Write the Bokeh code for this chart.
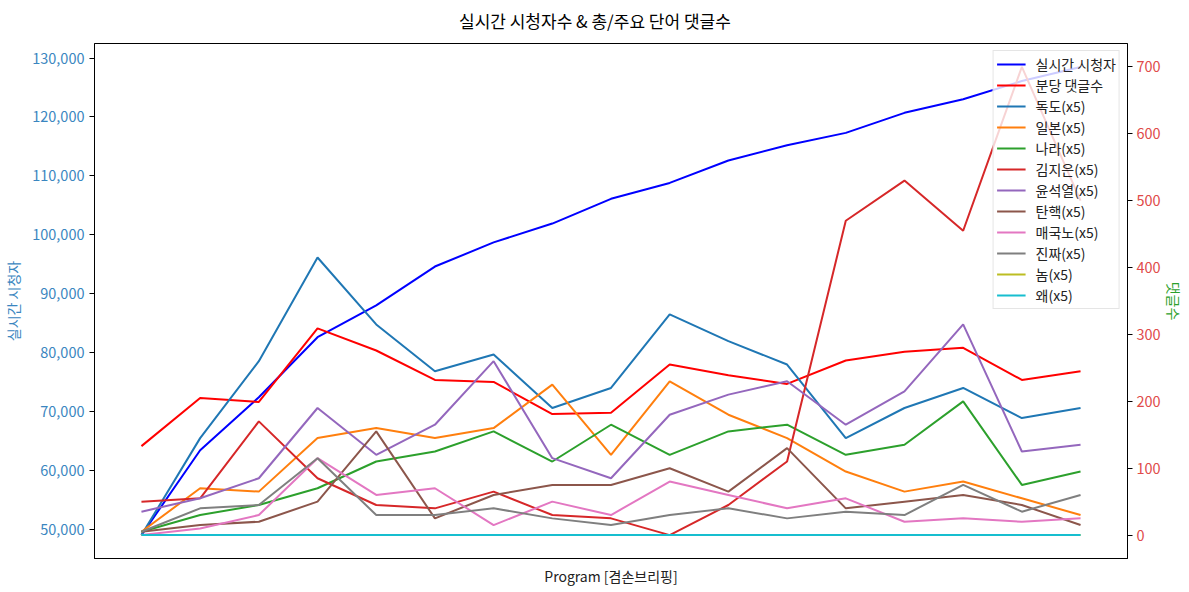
from bokeh.plotting import figure
from bokeh.models import (Range1d, LinearAxis, FixedTicker, NumeralTickFormatter,
                          Legend, LegendItem, Title)
from bokeh.embed import file_html
from bokeh.resources import INLINE

# ---- data ----
x = list(range(17))
viewers = [49000, 63400, 72400, 82600, 88000, 94600, 98700, 101900, 106100,
           108800, 112600, 115200, 117300, 120700, 123000, 126100, 128500]
comments_per_min = [133, 205, 199, 309, 276, 232, 229, 181, 183, 255, 239,
                    226, 261, 274, 280, 232, 245]

word_labels = ["독도(x5)", "일본(x5)", "나라(x5)", "김지은(x5)", "윤석열(x5)",
               "탄핵(x5)", "매국노(x5)", "진짜(x5)", "놈(x5)", "왜(x5)"]
dokdo   = [0, 145, 260, 415, 315, 245, 270, 190, 220, 330, 290, 255, 145, 190, 220, 175, 190]
japan   = [5, 70, 65, 145, 160, 145, 160, 225, 120, 230, 180, 145, 95, 65, 80, 55, 30]
nara    = [5, 30, 45, 70, 110, 125, 155, 110, 165, 120, 155, 165, 120, 135, 200, 75, 95]
kimjieun = [50, 55, 170, 85, 45, 40, 65, 30, 25, 0, 45, 110, 470, 530, 455, 700, 500]
yoon    = [35, 55, 85, 190, 120, 165, 260, 115, 85, 180, 210, 230, 165, 215, 315, 125, 135]
tanhaek = [5, 15, 20, 50, 155, 25, 60, 75, 75, 100, 65, 130, 40, 50, 60, 45, 15]
maeguk  = [0, 10, 30, 115, 60, 70, 15, 50, 30, 80, 60, 40, 55, 20, 25, 20, 25]
jinjja  = [5, 40, 45, 115, 30, 30, 40, 25, 15, 30, 40, 25, 35, 30, 75, 35, 60]
nom     = [0] * 17
wae     = [0] * 17
word_series = [dokdo, japan, nara, kimjieun, yoon, tanhaek, maeguk, jinjja, nom, wae]
word_colors = ["#1f77b4", "#ff7f0e", "#2ca02c", "#d62728", "#9467bd",
               "#8c564b", "#e377c2", "#7f7f7f", "#bcbd22", "#17becf"]
title_text = "실시간 시청자수 & 총/주요 단어 댓글수"

FONT = "Noto Sans CJK KR"
LW = 2.0
W, H = 1189, 592
BL, BR, BT, BB = 93, 62, 43, 34   # borders around the plot frame

# ranges like matplotlib autoscale (5% margins)
def padded(lo, hi, m=0.05):
    s = hi - lo
    return lo - m * s, hi + m * s

xlo, xhi = padded(min(x), max(x))
vlo, vhi = padded(min(viewers), max(viewers))
all_c = comments_per_min + [v for s in word_series for v in s]
clo, chi = padded(min(all_c), max(all_c))

p = figure(width=W, height=H, output_backend="svg", toolbar_location=None,
           x_range=Range1d(xlo, xhi), y_range=Range1d(vlo, vhi),
           min_border_left=BL, min_border_right=BR, min_border_top=BT,
           min_border_bottom=BB, title=None)
p.extra_y_ranges = {"c": Range1d(clo, chi)}

# spacer between frame and title, then the title (centred on the canvas)
spacer = Title(text=" ", text_font_size="1px", standoff=8)
p.add_layout(spacer, "above")
main_title = Title(text=title_text, align="left", offset=W / 2 - BL - 137,
                   vertical_align="bottom", standoff=0,
                   text_font=FONT, text_font_size="17px",
                   text_font_style="normal", text_color="#000000")
p.add_layout(main_title, "above")

p.xgrid.visible = False
p.ygrid.visible = False
p.outline_line_color = "black"
p.outline_line_alpha = 1
p.outline_line_width = 1

# x axis: no ticks, only label
xa = p.xaxis[0]
xa.ticker = FixedTicker(ticks=[])
xa.axis_label = "Program [겸손브리핑]"
xa.axis_label_text_font = FONT
xa.axis_label_text_font_size = "14px"
xa.axis_label_text_font_style = "normal"
xa.axis_label_text_color = "#222222"
xa.axis_label_standoff = 7
xa.major_tick_line_color = None
xa.minor_tick_line_color = None
xa.axis_line_color = "black"

# left axis
ya = p.yaxis[0]
ya.ticker = FixedTicker(ticks=[50000, 60000, 70000, 80000, 90000, 100000,
                               110000, 120000, 130000])
ya.formatter = NumeralTickFormatter(format="0,0")
ya.axis_label = "실시간 시청자"
ya.axis_label_text_font = FONT
ya.axis_label_text_font_size = "14px"
ya.axis_label_text_font_style = "normal"
ya.axis_label_text_color = "#3a86c0"
ya.major_label_text_color = "#3a86c0"
ya.major_label_text_font = FONT
ya.major_label_text_font_size = "14.5px"
ya.major_tick_out = 5
ya.major_tick_in = 0
ya.minor_tick_line_color = None
ya.axis_line_color = "black"
ya.major_label_standoff = 5
ya.axis_label_standoff = 6

# right axis
ra = LinearAxis(y_range_name="c", axis_label="댓글수")
ra.ticker = FixedTicker(ticks=[0, 100, 200, 300, 400, 500, 600, 700])
ra.axis_label_text_font = FONT
ra.axis_label_text_font_size = "14px"
ra.axis_label_text_font_style = "normal"
ra.axis_label_text_color = "#2ca02c"
ra.major_label_text_color = "#e04a4a"
ra.major_label_text_font = FONT
ra.major_label_text_font_size = "14.5px"
ra.major_tick_out = 5
ra.major_tick_in = 0
ra.minor_tick_line_color = None
ra.axis_line_color = "black"
ra.major_label_standoff = 4
ra.axis_label_standoff = 0
p.add_layout(ra, "right")

items = []
r = p.line(x, viewers, line_color="blue", line_width=LW)
items.append(LegendItem(label="실시간 시청자", renderers=[r]))
r = p.line(x, comments_per_min, line_color="red", line_width=LW,
           y_range_name="c", level="overlay")
items.append(LegendItem(label="분당 댓글수", renderers=[r]))
for lab, s, col in zip(word_labels, word_series, word_colors):
    r = p.line(x, s, line_color=col, line_width=LW, y_range_name="c",
               level="overlay")
    items.append(LegendItem(label=lab, renderers=[r]))

legend = Legend(items=items, location="top_right")
legend.margin = 7
legend.padding = 3
legend.spacing = 1
legend.label_height = 20
legend.glyph_height = 20
legend.glyph_width = 29
legend.label_standoff = 10
legend.label_text_font = FONT
legend.label_text_font_size = "14px"
legend.label_text_color = "#222222"
legend.border_line_color = "#cccccc"
legend.border_line_width = 1
legend.background_fill_alpha = 0.8
p.add_layout(legend, "center")

open("out.html", "w").write(file_html(p, INLINE))
